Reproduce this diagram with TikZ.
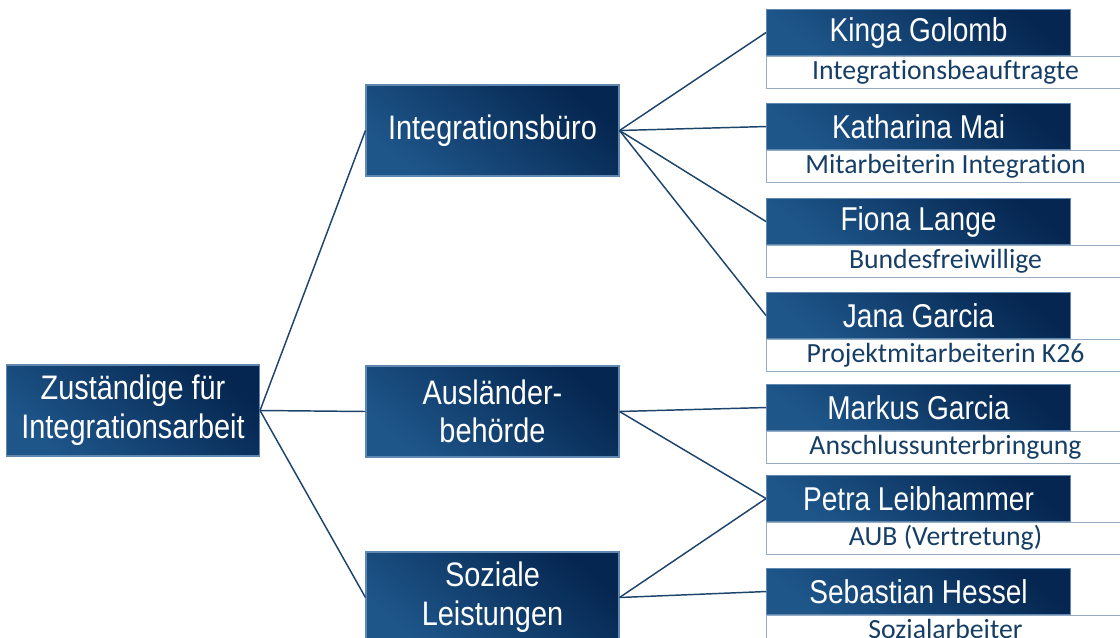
\documentclass[tikz,border=0pt]{standalone}
\usepackage{fontspec}
\usepackage{tikz}
\usetikzlibrary{positioning}

\newfontfamily\boxfont[FakeStretch=0.85]{Liberation Sans}
\newfontfamily\rolefont[Ligatures=NoCommon]{Carlito}
\definecolor{navyL}{RGB}{30,86,138}
\definecolor{navyD}{RGB}{5,38,80}
\definecolor{boxedge}{RGB}{95,135,175}
\definecolor{linkc}{RGB}{28,68,108}
\definecolor{roleedge}{RGB}{150,172,195}
\definecolor{roletext}{RGB}{22,62,102}

\begin{document}
\begin{tikzpicture}[x=0.75pt,y=-0.75pt,
    unit/.style={draw=boxedge,line width=0.8pt,top color=navyD,bottom color=navyL,shading angle=-40,
      text=white,align=center,inner sep=0pt,font=\boxfont\fontsize{25.5}{29}\selectfont,
      minimum width=189.75pt,minimum height=68.25pt},
    person/.style={draw=boxedge,line width=0.8pt,top color=navyD,bottom color=navyL,shading angle=-40,
      text=white,inner sep=0pt,anchor=north west,font=\boxfont\fontsize{24.75}{28}\selectfont,
      minimum width=228pt,minimum height=34.5pt},
    role/.style={draw=roleedge,line width=0.8pt,fill=white,text=roletext,inner sep=0pt,
      font=\rolefont\fontsize{20.8}{24}\selectfont,text height=15.2pt,text depth=4.8pt,
      minimum width=268.5pt,minimum height=24pt},
    link/.style={draw=linkc,line width=1.1pt}]
  \useasboundingbox (0,0) rectangle (1120,638);
  \clip (0,0) rectangle (1120,638);

  \node[unit] (root) at (133,410.5) {Zuständige für\\Integrationsarbeit};
  \node[unit] (ib) at (492.5,130.5) {Integrationsbüro};
  \node[unit] (ab) at (492.5,411.5) {Ausländer-\\behörde};
  \node[unit] (sl) at (492.5,597.5) {Soziale\\Leistungen};

  \node[person] (p_1) at (766,9) {Kinga Golomb};
  \node[role] (r_1) [below right=0pt and 0pt of p_1.south west] {Integrationsbeauftragte};
  \node[person] (p_2) at (766,103) {Katharina Mai};
  \node[role] (r_2) [below right=0pt and 0pt of p_2.south west] {Mitarbeiterin Integration};
  \node[person] (p_3) at (766,198) {Fiona Lange};
  \node[role] (r_3) [below right=0pt and 0pt of p_3.south west] {Bundesfreiwillige};
  \node[person] (p_4) at (766,292) {Jana Garcia};
  \node[role] (r_4) [below right=0pt and 0pt of p_4.south west] {Projektmitarbeiterin K26};
  \node[person] (p_5) at (766,384) {Markus Garcia};
  \node[role] (r_5) [below right=0pt and 0pt of p_5.south west] {Anschlussunterbringung};
  \node[person] (p_6) at (766,475) {Petra Leibhammer};
  \node[role] (r_6) [below right=0pt and 0pt of p_6.south west] {AUB (Vertretung)};
  \node[person] (p_7) at (766,568) {Sebastian Hessel};
  \node[role] (r_7) [below right=0pt and 0pt of p_7.south west] {Sozialarbeiter};

  \path[link]
  (root.east) edge (ib.west)
              edge (ab.west)
              edge (sl.west)
  (ib.east) edge (p_1.west)
            edge (p_2.west)
            edge (p_3.west)
            edge (p_4.west)
  (ab.east) edge (p_5.west)
            edge (p_6.west)
  (sl.east) edge (p_6.west)
            edge (p_7.west);
\end{tikzpicture}
\end{document}
